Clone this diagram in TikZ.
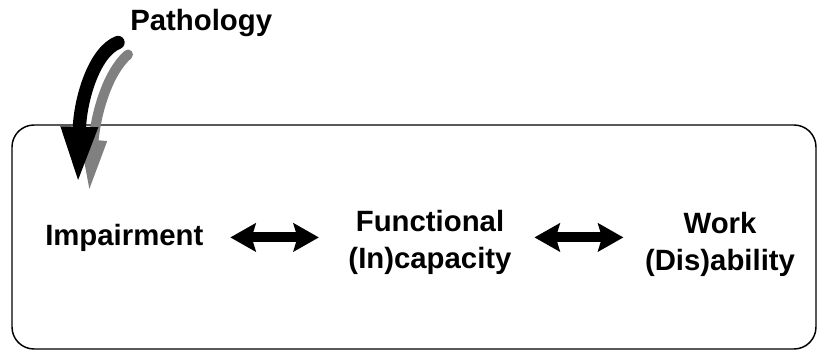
\documentclass[tikz,border=0pt]{standalone}
\usepackage{fontspec}
\setmainfont{Liberation Sans}
\usepackage{tikz}
\usetikzlibrary{arrows.meta}

\begin{document}
\begin{tikzpicture}[
  x=0.75pt, y=-0.75pt,
  font=\fontsize{22}{27.5}\selectfont\bfseries,
  lbl/.style={inner sep=0pt, align=center},
  frame/.style={draw, line width=1.1pt, rounded corners=16.5pt},
  dbl/.style={line width=7.5pt,
              {Stealth[length=19pt, width=21pt, inset=3pt]}-{Stealth[length=19pt, width=21pt, inset=3pt]}},
  curvy/.style={line width=10pt, line cap=round,
                -{Triangle[length=43pt, width=25pt]}},
  curvyshadow/.style={curvy, black!50, line width=7.5pt,
                      -{Triangle[length=40pt, width=18pt]}},
]
\useasboundingbox (0,0) rectangle (818,351);

% outer box
\draw[frame] (12,125) rectangle (816,349);

% labels
\node[lbl, anchor=base west] (path) at (130,30) {Pathology};
\node[lbl, anchor=base west] (imp) at (45,245) {Impairment};
\node[lbl, anchor=north] (func) at (430,210) {Functional\\(In)capacity};
\node[lbl, anchor=north] (work) at (720,212) {Work\\(Dis)ability};

% pathology arrow with its shadow
\coordinate (hit) at (78,184);
\coordinate (hits) at (89,193);
\draw[curvyshadow] ([shift={(-2,18)}]path.south west)
  .. controls (108,72) and (96,112) .. (hits);
\draw[curvy] ([shift={(-12,6)}]path.south west)
  .. controls (94,52) and (80,100) .. (hit);

% links
\draw[dbl, shorten <=20pt, shorten >=22pt] (imp.east) -- (imp.east -| func.west);
\draw[dbl, shorten <=17pt, shorten >=16pt] (func.east |- imp.east) -- (imp.east -| work.west);
\end{tikzpicture}
\end{document}
